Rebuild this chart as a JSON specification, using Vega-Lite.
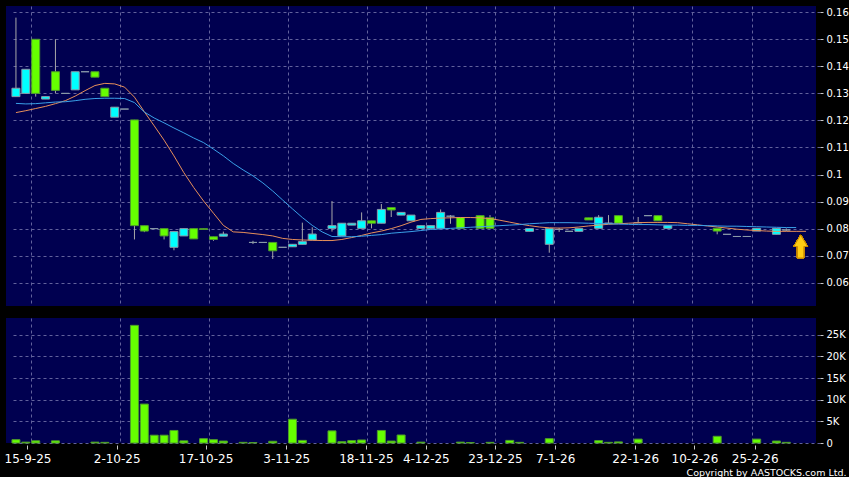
{
  "$schema": "https://vega.github.io/schema/vega-lite/v6.json",
  "background": "#000000",
  "padding": {"left": 4, "top": 6, "right": 0, "bottom": 0},
  "spacing": 12,
  "config": {
    "view": {"fill": "#000050", "stroke": null},
    "axis": {"gridColor": "#62629c", "gridDash": [3, 3], "gridWidth": 1, "labelOverlap": false, "labelFlush": false},
    "axisY": {"orient": "right", "grid": true, "domain": false, "tickSize": 3, "offset": 4,
              "tickColor": "#c8c8c8", "labelPadding": 3, "labelColor": "#ffffff",
              "labelFont": "DejaVu Sans", "labelFontSize": 10, "title": null}
  },
  "data": {"values": [
    {"i":0,"o":0.1288,"h":0.158,"l":0.1288,"c":0.1319,"v":770,"m1":0.1229,"m2":0.1263},
    {"i":1,"o":0.13,"h":0.1389,"l":0.13,"c":0.1389,"v":200,"m1":0.1236,"m2":0.1261},
    {"i":2,"o":0.15,"h":0.15,"l":0.1288,"c":0.13,"v":500,"m1":0.1244,"m2":0.1262},
    {"i":3,"o":0.1279,"h":0.1288,"l":0.1279,"c":0.1288,"m1":0.1252,"m2":0.1265},
    {"i":4,"o":0.138,"h":0.15,"l":0.13,"c":0.1311,"v":500,"m1":0.1262,"m2":0.1268},
    {"i":5,"o":0.13,"h":0.13,"l":0.13,"c":0.13,"m1":0.1273,"m2":0.1269},
    {"i":6,"o":0.1313,"h":0.138,"l":0.1313,"c":0.138,"m1":0.129,"m2":0.1273},
    {"i":7,"o":0.138,"h":0.138,"l":0.138,"c":0.138,"m1":0.131,"m2":0.1278},
    {"i":8,"o":0.138,"h":0.138,"l":0.136,"c":0.136,"v":200,"m1":0.1329,"m2":0.1281},
    {"i":9,"o":0.1319,"h":0.1319,"l":0.1288,"c":0.1288,"v":150,"m1":0.1337,"m2":0.1282},
    {"i":10,"o":0.1212,"h":0.1249,"l":0.1212,"c":0.1249,"m1":0.1335,"m2":0.1282},
    {"i":11,"o":0.1242,"h":0.1242,"l":0.1242,"c":0.1242,"m1":0.1323,"m2":0.1281},
    {"i":12,"o":0.1202,"h":0.1202,"l":0.076,"c":0.0811,"v":27200,"m1":0.1286,"m2":0.1266},
    {"i":13,"o":0.0811,"h":0.0811,"l":0.0787,"c":0.0791,"v":9000,"m1":0.1232,"m2":0.1231},
    {"i":14,"o":0.08,"h":0.08,"l":0.08,"c":0.08,"v":1800,"m1":0.118,"m2":0.1209},
    {"i":15,"o":0.08,"h":0.08,"l":0.076,"c":0.0773,"v":1800,"m1":0.1127,"m2":0.1191},
    {"i":16,"o":0.0731,"h":0.0789,"l":0.072,"c":0.0789,"v":2900,"m1":0.1069,"m2":0.1172},
    {"i":17,"o":0.0773,"h":0.08,"l":0.0773,"c":0.08,"v":500,"m1":0.1007,"m2":0.1154},
    {"i":18,"o":0.08,"h":0.08,"l":0.0762,"c":0.0762,"m1":0.0952,"m2":0.1135},
    {"i":19,"o":0.08,"h":0.08,"l":0.0797,"c":0.0797,"v":1000,"m1":0.0902,"m2":0.1118},
    {"i":20,"o":0.077,"h":0.077,"l":0.0755,"c":0.076,"v":770,"m1":0.0857,"m2":0.1094},
    {"i":21,"o":0.0772,"h":0.0789,"l":0.0772,"c":0.078,"v":450,"m1":0.0812,"m2":0.1069},
    {"i":22,"m1":0.0788,"m2":0.1041},
    {"i":23,"v":150,"m1":0.0786,"m2":0.1017},
    {"i":24,"o":0.0749,"h":0.0755,"l":0.0743,"c":0.0749,"v":100,"m1":0.0782,"m2":0.0995},
    {"i":25,"o":0.0749,"h":0.0749,"l":0.0749,"c":0.0749,"m1":0.0778,"m2":0.0969},
    {"i":26,"o":0.0749,"h":0.0749,"l":0.0688,"c":0.0718,"v":400,"m1":0.0773,"m2":0.0939},
    {"i":27,"o":0.0731,"h":0.0731,"l":0.0731,"c":0.0731,"m1":0.0764,"m2":0.0906},
    {"i":28,"o":0.0733,"h":0.0742,"l":0.0733,"c":0.0742,"v":5500,"m1":0.076,"m2":0.0873},
    {"i":29,"o":0.0742,"h":0.0822,"l":0.0742,"c":0.0752,"v":600,"m1":0.0758,"m2":0.0841},
    {"i":30,"o":0.0758,"h":0.0805,"l":0.0758,"c":0.078,"m1":0.0757,"m2":0.0812},
    {"i":31,"m1":0.0756,"m2":0.0788},
    {"i":32,"o":0.0801,"h":0.0902,"l":0.0789,"c":0.0811,"v":2800,"m1":0.0756,"m2":0.0771},
    {"i":33,"o":0.0773,"h":0.082,"l":0.0773,"c":0.082,"v":300,"m1":0.076,"m2":0.077,"m3":0.08},
    {"i":34,"o":0.0813,"h":0.082,"l":0.0813,"c":0.082,"v":550,"m1":0.0767,"m2":0.077},
    {"i":35,"o":0.0801,"h":0.086,"l":0.0801,"c":0.0829,"v":700,"m1":0.0775,"m2":0.0772},
    {"i":36,"o":0.0829,"h":0.0829,"l":0.0801,"c":0.082,"m1":0.0784,"m2":0.0775},
    {"i":37,"o":0.082,"h":0.0891,"l":0.082,"c":0.0871,"v":2900,"m1":0.0791,"m2":0.0778},
    {"i":38,"o":0.0878,"h":0.0878,"l":0.0843,"c":0.0869,"v":450,"m1":0.08,"m2":0.0783},
    {"i":39,"o":0.085,"h":0.086,"l":0.085,"c":0.086,"v":1850,"m1":0.0811,"m2":0.0786},
    {"i":40,"o":0.0829,"h":0.085,"l":0.0829,"c":0.085,"m1":0.0824,"m2":0.0789},
    {"i":41,"o":0.0801,"h":0.0811,"l":0.0801,"c":0.0811,"v":200,"m1":0.0834,"m2":0.0793},
    {"i":42,"o":0.0801,"h":0.0811,"l":0.0801,"c":0.0811,"m1":0.0837,"m2":0.0797},
    {"i":43,"o":0.0801,"h":0.0871,"l":0.0801,"c":0.086,"m1":0.0839,"m2":0.0799},
    {"i":44,"o":0.0846,"h":0.085,"l":0.0818,"c":0.0846,"m1":0.084,"m2":0.0801},
    {"i":45,"o":0.0841,"h":0.0841,"l":0.0801,"c":0.0801,"v":200,"m1":0.0841,"m2":0.0803},
    {"i":46,"v":100,"m1":0.0841,"m2":0.0805},
    {"i":47,"o":0.0848,"h":0.0848,"l":0.0801,"c":0.0801,"m1":0.084,"m2":0.0807},
    {"i":48,"o":0.084,"h":0.085,"l":0.0801,"c":0.0801,"v":150,"m1":0.0837,"m2":0.0809},
    {"i":49,"m1":0.0831,"m2":0.0811},
    {"i":50,"v":600,"m1":0.0824,"m2":0.0813},
    {"i":51,"v":150,"m1":0.0817,"m2":0.0815},
    {"i":52,"o":0.079,"h":0.08,"l":0.079,"c":0.08,"m1":0.0811,"m2":0.0818},
    {"i":53,"m1":0.0806,"m2":0.082},
    {"i":54,"o":0.0742,"h":0.08,"l":0.0711,"c":0.08,"v":1000,"m1":0.0803,"m2":0.0822},
    {"i":55,"o":0.0797,"h":0.0803,"l":0.0788,"c":0.0797,"m1":0.0802,"m2":0.0822},
    {"i":56,"o":0.079,"h":0.079,"l":0.079,"c":0.079,"m1":0.0803,"m2":0.0822},
    {"i":57,"o":0.079,"h":0.08,"l":0.079,"c":0.08,"m1":0.0806,"m2":0.0821},
    {"i":58,"o":0.084,"h":0.084,"l":0.0832,"c":0.0832,"m1":0.081,"m2":0.082},
    {"i":59,"o":0.0801,"h":0.085,"l":0.0801,"c":0.0842,"v":550,"m1":0.0813,"m2":0.0819},
    {"i":60,"o":0.082,"h":0.085,"l":0.082,"c":0.082,"v":150,"m1":0.0816,"m2":0.0818},
    {"i":61,"o":0.0848,"h":0.0848,"l":0.082,"c":0.082,"v":250,"m1":0.0818,"m2":0.0817},
    {"i":62,"m1":0.082,"m2":0.0816},
    {"i":63,"o":0.0822,"h":0.0843,"l":0.082,"c":0.0822,"v":900,"m1":0.0822,"m2":0.0815},
    {"i":64,"o":0.0848,"h":0.0848,"l":0.0848,"c":0.0848,"m1":0.0823,"m2":0.0815},
    {"i":65,"o":0.0848,"h":0.0848,"l":0.0829,"c":0.0829,"m1":0.0823,"m2":0.0814},
    {"i":66,"o":0.0801,"h":0.0811,"l":0.0801,"c":0.0811,"m1":0.0823,"m2":0.0813},
    {"i":67,"m1":0.0822,"m2":0.0813},
    {"i":68,"m1":0.0818,"m2":0.0812},
    {"i":69,"m1":0.0814,"m2":0.0812},
    {"i":70,"m1":0.081,"m2":0.0811},
    {"i":71,"o":0.0801,"h":0.0801,"l":0.0779,"c":0.0791,"v":1550,"m1":0.0806,"m2":0.081},
    {"i":72,"o":0.0779,"h":0.0779,"l":0.0779,"c":0.0779,"m1":0.0802,"m2":0.0809},
    {"i":73,"o":0.0771,"h":0.0771,"l":0.0771,"c":0.0771,"m1":0.0798,"m2":0.0809},
    {"i":74,"o":0.0771,"h":0.0771,"l":0.0771,"c":0.0771,"m1":0.0795,"m2":0.0808},
    {"i":75,"o":0.0791,"h":0.0801,"l":0.0791,"c":0.0801,"v":900,"m1":0.0793,"m2":0.0807},
    {"i":76,"m1":0.0791,"m2":0.0806},
    {"i":77,"o":0.0779,"h":0.0801,"l":0.0779,"c":0.0801,"v":450,"m1":0.079,"m2":0.0805},
    {"i":78,"o":0.0795,"h":0.0801,"l":0.0791,"c":0.0795,"v":150,"m1":0.079,"m2":0.0804},
    {"i":79,"m1":0.079,"m2":0.0804,"m3":0.08},
    {"i":80,"m1":0.079}
  ]},
  "vconcat": [
    {
      "width": 810,
      "height": 300,
      "encoding": {
        "x": {"field": "i", "type": "quantitative",
              "scale": {"domain": [-0.5, 80.5], "nice": false, "zero": false},
              "axis": {"values": [1.5, 10.5, 19.5, 27.5, 35.5, 41.5, 48.5, 54.5, 62.5, 68.5, 74.5],
                       "grid": true, "labels": false, "ticks": false, "domain": false, "title": null}}
      },
      "layer": [
        {
          "mark": {"type": "rule", "color": "#a8a8a8", "strokeWidth": 1},
          "encoding": {
            "y": {"field": "l", "type": "quantitative",
                  "scale": {"domain": [0.0514, 0.1623], "nice": false, "zero": false},
                  "axis": {"values": [0.06, 0.07, 0.08, 0.09, 0.1, 0.11, 0.12, 0.13, 0.14, 0.15, 0.16], "format": ".2~f"}},
            "y2": {"field": "h"}
          }
        },
        {
          "mark": {"type": "bar", "size": 8, "strokeWidth": 1},
          "encoding": {
            "y": {"field": "o", "type": "quantitative",
                  "axis": {"values": [0.06, 0.07, 0.08, 0.09, 0.1, 0.11, 0.12, 0.13, 0.14, 0.15, 0.16], "format": ".2~f"}},
            "y2": {"field": "c"},
            "fill": {"condition": {"test": "datum.c < datum.o", "value": "#66ff00"}, "value": "#00ffff"},
            "stroke": {"condition": {"test": "datum.c < datum.o", "value": "#4f9a2c"}, "value": "#8a9aa8"}
          }
        },
        {
          "mark": {"type": "line", "color": "#b4b4c4", "strokeWidth": 1},
          "encoding": {"y": {"field": "m3", "type": "quantitative",
                  "axis": {"values": [0.06, 0.07, 0.08, 0.09, 0.1, 0.11, 0.12, 0.13, 0.14, 0.15, 0.16], "format": ".2~f"}}}
        },
        {
          "mark": {"type": "line", "color": "#e8905a", "strokeWidth": 1},
          "encoding": {"y": {"field": "m1", "type": "quantitative",
                  "axis": {"values": [0.06, 0.07, 0.08, 0.09, 0.1, 0.11, 0.12, 0.13, 0.14, 0.15, 0.16], "format": ".2~f"}}}
        },
        {
          "mark": {"type": "line", "color": "#3aa0e8", "strokeWidth": 1},
          "encoding": {"y": {"field": "m2", "type": "quantitative",
                  "axis": {"values": [0.06, 0.07, 0.08, 0.09, 0.1, 0.11, 0.12, 0.13, 0.14, 0.15, 0.16], "format": ".2~f"}}}
        },
        {
          "mark": {"type": "point", "shape": "M-0.6,0L0,-1L0.6,0L0.28,0L0.28,1L-0.28,1L-0.28,0Z",
                   "size": 529, "filled": true, "fill": "#ffcc11", "stroke": "#c88a00", "strokeWidth": 1, "opacity": 1},
          "encoding": {"x": {"datum": 79.45},
                       "y": {"datum": 0.0734,
                  "axis": {"values": [0.06, 0.07, 0.08, 0.09, 0.1, 0.11, 0.12, 0.13, 0.14, 0.15, 0.16], "format": ".2~f"}}}
        }
      ]
    },
    {
      "width": 810,
      "height": 125,
      "resolve": {"axis": {"x": "independent"}},
      "layer": [
        {
          "mark": {"type": "rule", "opacity": 0},
          "encoding": {
            "x": {"field": "i", "type": "quantitative",
                  "scale": {"domain": [-0.5, 80.5], "nice": false, "zero": false},
                  "axis": {"orient": "top", "values": [1.5, 10.5, 19.5, 27.5, 35.5, 41.5, 48.5, 54.5, 62.5, 68.5, 74.5],
                           "grid": true, "labels": false, "ticks": false, "domain": false, "title": null}}
          }
        },
        {
          "mark": {"type": "bar", "size": 8, "fill": "#66ff00", "stroke": "#4f9a2c", "strokeWidth": 1},
          "encoding": {
            "x": {"field": "i", "type": "quantitative",
                  "axis": {"orient": "bottom", "values": [1.17, 10.2, 19.2, 27.37, 35.43, 41.5, 48.5, 54.6, 62.7, 68.7, 74.8],
                           "labelExpr": "['15-9-25','2-10-25','17-10-25','3-11-25','18-11-25','4-12-25','23-12-25','7-1-26','22-1-26','10-2-26','25-2-26'][indexof([1.17,10.2,19.2,27.37,35.43,41.5,48.5,54.6,62.7,68.7,74.8], datum.value)]",
                           "grid": false, "domain": false, "ticks": true, "tickSize": 4, "offset": 2, "tickColor": "#c8c8c8",
                           "labelPadding": 4, "labelColor": "#ffffff", "labelFont": "DejaVu Sans", "labelFontSize": 12,
                           "title": "Copyright by AASTOCKS.com Ltd.", "titleX": 840, "titleY": 30, "titleAlign": "right",
                           "titleBaseline": "alphabetic", "titleColor": "#ffffff", "titleFont": "DejaVu Sans",
                           "titleFontSize": 9.5, "titleFontWeight": "normal"}},
            "y": {"field": "v", "type": "quantitative",
                  "scale": {"domain": [0, 28900], "nice": false},
                  "axis": {"values": [0, 5000, 10000, 15000, 20000, 25000],
                           "labelExpr": "datum.value == 0 ? '0' : (datum.value / 1000) + 'K'"}}
          }
        }
      ]
    }
  ]
}
